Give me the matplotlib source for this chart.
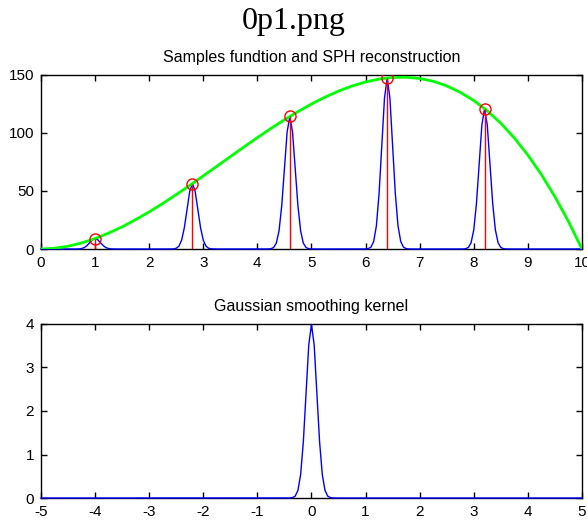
import numpy as np
import matplotlib
matplotlib.use('Agg')
import matplotlib.pyplot as plt

curve_x = [0, 0.25, 0.5, 0.75, 1, 1.25, 1.5, 1.75, 2, 2.25, 2.5, 2.75, 3, 3.25, 3.5, 3.75,
           4, 4.25, 4.5, 4.75, 5, 5.25, 5.5, 5.75, 6, 6.25, 6.5, 6.75, 7, 7.25, 7.5, 7.75,
           8, 8.25, 8.5, 8.75, 9, 9.25, 9.5, 9.75, 10]
curve_y = [0, 0.6, 2.4, 5.2, 9.0, 13.7, 19.1, 25.3, 32.0, 39.2, 46.9, 54.8, 63.0, 71.3, 79.6, 87.9,
           96.0, 103.9, 111.4, 118.4, 125.0, 130.9, 136.1, 140.5, 144.0, 146.5, 147.9, 148.1, 147.0, 144.6, 140.6, 135.1,
           128.0, 119.1, 108.4, 95.7, 81.0, 64.2, 45.1, 23.8, 0]

# SPH particles
sample_x = [1.0, 2.8, 4.6, 6.4, 8.2]
sample_y = [9.0, 56.4, 114.3, 147.5, 121.0]

# gaussian kernel
kernel_sigma = 0.1
kernel_peak = 1.0 / (np.sqrt(2 * np.pi) * kernel_sigma)

def kernel(r):
    return kernel_peak * np.exp(-r ** 2 / (2 * kernel_sigma ** 2))

plt.rcParams['font.family'] = ['Liberation Sans', 'DejaVu Sans']
plt.rcParams['font.size'] = 11
plt.rcParams['axes.unicode_minus'] = False

fig = plt.figure(figsize=(5.87, 5.23), dpi=100)
fig.text(0.5, 0.958, '0p1.png', ha='center', va='center', fontsize=23, family='Liberation Serif')

def style(ax):
    ax.tick_params(direction='in', length=4, width=1, top=True, right=True, pad=5, labelsize=11)
    for s in ax.spines.values():
        s.set_linewidth(1)

# top: samples and reconstruction
ax1 = fig.add_axes([0.0698, 0.5239, 0.9216, 0.3327])
xs = np.arange(0, 10.0001, 0.05)
recon = np.zeros_like(xs)
for xi, yi in zip(sample_x, sample_y):
    recon += yi * kernel(xs - xi) / kernel_peak
ax1.plot(xs, recon, color=(0, 0, 1), lw=1, clip_on=False, zorder=3)
ax1.plot(curve_x, curve_y, color=(0, 1, 0), lw=2, zorder=4)
ax1.vlines(sample_x, 0, sample_y, color='red', lw=1, zorder=5)
ax1.plot(sample_x, sample_y, 'o', mfc='none', mec='red', ms=8, mew=1, zorder=6)
ax1.set_xlim(0, 10)
ax1.set_ylim(0, 150)
ax1.set_xticks(range(0, 11))
ax1.set_yticks([0, 50, 100, 150])
ax1.set_title('Samples fundtion and SPH reconstruction', fontsize=11.5, pad=9)
style(ax1)

# bottom: kernel
ax2 = fig.add_axes([0.0698, 0.0478, 0.9216, 0.3327])
ks = np.linspace(-5, 5, 201)
ax2.plot(ks, kernel(ks), color=(0, 0, 1), lw=1, clip_on=False, zorder=3)
ax2.set_xlim(-5, 5)
ax2.set_ylim(0, 4)
ax2.set_xticks(range(-5, 6))
ax2.set_yticks(range(0, 5))
ax2.set_title('Gaussian smoothing kernel', fontsize=11.5, pad=9)
style(ax2)

fig.savefig('out.png', dpi=100)
